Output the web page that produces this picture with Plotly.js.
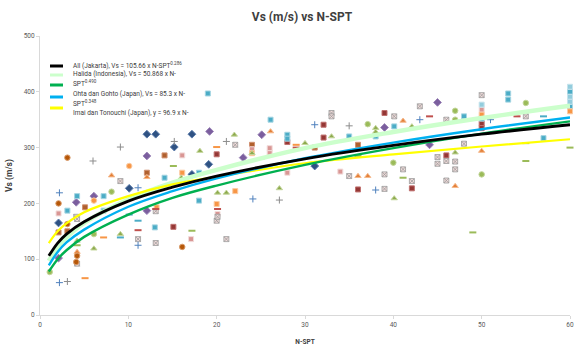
<!DOCTYPE html>
<html>
<head>
<meta charset="utf-8">
<script src="https://cdn.plot.ly/plotly-3.0.1.min.js"></script>
<style>
  html, body { margin: 0; padding: 0; background: #ffffff; }
  #chart { width: 574px; height: 346px; }
</style>
</head>
<body>
<div id="chart"></div>
<script>
// ---- Field measurements: N-SPT blow count vs shear-wave velocity (m/s) ----
const navyDiamondN  = [2.1, 10.1, 12.1, 13.1, 15.2, 17.2, 17.2, 19.1, 31.1];
const navyDiamondVs = [165, 227, 324, 324, 301, 324, 252, 270, 267];

const purpleDiamondN  = [2.1, 4.1, 6.1, 12.1, 12.1, 19.2, 25.1, 39, 44.1, 45, 23];
const purpleDiamondVs = [102, 202, 213, 285, 187, 329, 323, 336, 305, 381, 282];

const brownSquareN  = [2.1, 3.1, 5.1, 12.1, 14.1, 31.1, 36, 24];
const brownSquareVs = [148, 150, 193, 255, 286, 300, 305, 305];

const darkRedSquareN  = [15.1, 20, 28, 32.1, 32.1, 36, 39, 42.1, 46, 50, 50];
const darkRedSquareVs = [158, 288, 310, 318, 341, 225, 362, 227, 286, 343, 335];

const pinkSquareN  = [2.1, 16.1, 17.1, 20.1, 26, 26, 28, 34, 50, 24];
const pinkSquareVs = [182, 286, 136, 181, 291, 299, 255, 257, 368, 297];

const cyanSquareN  = [3.1, 4.2, 7.2, 7.2, 13, 14.1, 18, 18, 19, 26.1, 28, 28, 35, 38, 40.1, 48, 50, 53, 53, 57, 60, 60];
const cyanSquareVs = [187, 213, 213, 187, 157, 246, 255, 205, 397, 350, 323, 316, 320, 320, 338, 356, 352, 397, 386, 317, 400, 374];

const lightBlueSquareN  = [60, 60, 50, 60];
const lightBlueSquareVs = [409, 391, 377, 382];

const orangeSquareN  = [16.1, 13.2, 22.1, 60, 50, 24, 20];
const orangeSquareVs = [255, 193, 222, 365, 359, 290, 199];

const oliveTriangleN  = [18.1, 16, 22, 20.1, 21.1, 9.1, 4.2, 6.1, 27.1, 30, 33, 38, 38, 42.1, 47, 40.1, 24];
const oliveTriangleVs = [294, 246, 323, 219, 219, 145, 133, 119, 227, 308, 320, 335, 328, 338, 291, 209, 290];

const orangeTriangleN  = [8.1, 12.1, 4.2, 26.1, 41.1, 36, 37.1, 50, 47];
const orangeTriangleVs = [250, 247, 113, 329, 348, 249, 249, 294, 231];

const crossSquareN  = [4.1, 9.1, 4.2, 4.2, 13.1, 11.1, 13.1, 21.1, 20, 22.1, 33, 33, 35, 39, 39, 40.1, 41.1, 42.1, 43, 45, 45, 46, 46, 46, 47, 47, 48, 55, 50, 20.1];
const crossSquareVs = [176, 240, 172, 92, 186, 136, 129, 136, 169, 305, 362, 356, 249, 252, 226, 356, 261, 240, 374, 283, 271, 350, 276, 241, 275, 261, 307, 356, 394, 176];

const greenCircleN  = [1.1, 8.1, 6.1, 37.1, 40, 47, 47, 50, 55];
const greenCircleVs = [77, 221, 145, 342, 273, 366, 350, 252, 380];

const orangeCircleN  = [10.1, 6.1];
const orangeCircleVs = [267, 205];

const brownCircleN  = [2.1, 3.1, 3.1, 4.2, 4.1, 16.1];
const brownCircleVs = [200, 282, 163, 106, 95, 122];

const bluePlusN  = [2.2, 11.1, 11.1, 2.2, 31.1, 24.1, 38, 43, 51];
const bluePlusVs = [219, 228, 125, 58, 341, 208, 224, 350, 350];

const grayPlusN  = [9.1, 15.2, 6, 3.1, 21.1, 27.1, 35];
const grayPlusVs = [301, 311, 276, 60, 311, 206, 339];

const oliveDashN  = [15.1, 4.2, 17.2, 36, 41.1, 55, 55, 60, 49, 25];
const oliveDashVs = [267, 125, 151, 285, 246, 308, 276, 300, 148, 280];

const redDashN  = [13.1, 11.1, 20.1, 44.1, 54, 29];
const redDashVs = [190, 152, 190, 356, 356, 300];

const orangeDashN  = [20, 7.2, 5.1, 29];
const orangeDashVs = [301, 139, 66, 305];

const tealDashN  = [9.1, 11.1, 10.1, 57];
const tealDashVs = [139, 169, 180, 356];

// ---- Correlation curves (Vs read at selected N-SPT values) ----
const curveN         = [1, 2, 3, 5, 10, 15, 20, 30, 40, 50, 60];
const allJakartaVs   = [106, 129, 145, 167, 204, 229, 249, 280, 304, 324, 341];
const halidaVs       = [97, 122, 139, 165, 207, 237, 260, 299, 328, 353, 375];
const greenCurveVs   = [78, 100, 116, 140, 180, 210, 232, 269, 299, 325, 347];
const ohtaGohtoVs    = [89, 113, 130, 153, 194, 222, 245, 281, 309, 333, 354];
const imaiTonouchiVs = [129, 150, 164, 184, 213, 234, 248, 272, 288, 302, 315];

// ---- Tick labels ----
const xTicks = [0, 10, 20, 30, 40, 50, 60];
const yTicks = [0, 100, 200, 300, 400, 500];

// ---- Legend rows: line swatches and text lines ----
const legendSwatchColors = ['#000000', '#CCFFCC', '#00B050', '#00B0F0', '#FFFF00'];
const legendLabels = [
  'All (Jakarta), Vs = 105.66 x N-SPT<sup>0.286</sup>',
  'Halida (Indonesia), Vs = 50.868 x N-',
  'SPT<sup>0.490</sup>',
  'Ohta dan Gohto (Japan), Vs = 85.3 x N-',
  'SPT<sup>0.348</sup>',
  'Imai dan Tonouchi (Japan), y = 96.9 x N-'
];

const FONT = 'Roboto, Liberation Sans, sans-serif';

function pts(x, y, symbol, color, lineColor, size, lineWidth) {
  return {
    type: 'scatter', mode: 'markers', x: x, y: y, showlegend: false,
    hoverinfo: 'x+y', cliponaxis: false,
    marker: { symbol: symbol, color: color, size: size || 5,
              line: { color: lineColor, width: lineWidth === undefined ? 1 : lineWidth } }
  };
}

function curve(y, color, width) {
  return {
    type: 'scatter', mode: 'lines', x: curveN, y: y, showlegend: false,
    line: { color: color, width: width, shape: 'spline', smoothing: 1.0 }, hoverinfo: 'skip'
  };
}

const traces = [
  pts(navyDiamondN, navyDiamondVs, 'diamond', '#2F5283', '#5A7BAA', 6),
  pts(purpleDiamondN, purpleDiamondVs, 'diamond', '#7B5E9E', '#9C86B8', 6),
  pts(brownSquareN, brownSquareVs, 'square', '#B0602E', '#D09070', 5),
  pts(darkRedSquareN, darkRedSquareVs, 'square', '#953735', '#C07270', 5),
  pts(pinkSquareN, pinkSquareVs, 'square', '#D99694', '#F2DCDB', 5),
  pts(cyanSquareN, cyanSquareVs, 'square', '#4BACC6', '#A5D5E2', 5),
  pts(lightBlueSquareN, lightBlueSquareVs, 'square', '#93CDDD', '#C6E3EC', 5),
  pts(orangeSquareN, orangeSquareVs, 'square', '#F79646', '#FBCBA3', 5),
  pts(oliveTriangleN, oliveTriangleVs, 'triangle-up', '#8EAA4E', '#C3D69B', 5.5),
  pts(orangeTriangleN, orangeTriangleVs, 'triangle-up', '#E3813A', '#F6B88A', 5.5),
  pts(crossSquareN, crossSquareVs, 'square-x', '#F2DCDB', '#9A9A9A', 5, 0.8),
  pts(greenCircleN, greenCircleVs, 'circle', '#9BBB59', '#C3D69B', 5.5),
  pts(orangeCircleN, orangeCircleVs, 'circle', '#F79646', '#FBCBA3', 5.5),
  pts(brownCircleN, brownCircleVs, 'circle', '#B65708', '#D99B6A', 5.5),
  pts(bluePlusN, bluePlusVs, 'cross-thin-open', '#4F81BD', '#4F81BD', 5, 1),
  pts(grayPlusN, grayPlusVs, 'cross-thin-open', '#8C8C8C', '#8C8C8C', 5, 1),
  pts(oliveDashN, oliveDashVs, 'line-ew-open', '#9BBB59', '#9BBB59', 5, 2),
  pts(redDashN, redDashVs, 'line-ew-open', '#C0504D', '#C0504D', 5, 2),
  pts(orangeDashN, orangeDashVs, 'line-ew-open', '#F79646', '#F79646', 5, 2),
  pts(tealDashN, tealDashVs, 'line-ew-open', '#4BACC6', '#4BACC6', 5, 2),

  curve(halidaVs, '#CCFFCC', 4.5),
  curve(imaiTonouchiVs, '#FFFF00', 2.2),
  curve(greenCurveVs, '#00B050', 2.4),
  curve(ohtaGohtoVs, '#00B0F0', 2.4),
  curve(allJakartaVs, '#000000', 2.8)
];

// Compact legend placed in plot-area fractions (plot area spans 40..570 px, 36..315 px)
const px2x = p => (p - 40) / 530;
const px2y = p => (315 - p) / 279;
const swatchRows = [66, 75, 85, 97, 108];
const labelRows = [65, 74, 83, 94, 103, 113];

const shapes = legendSwatchColors.map((c, i) => ({
  type: 'line', xref: 'paper', yref: 'paper',
  x0: px2x(50), x1: px2x(63), y0: px2y(swatchRows[i]), y1: px2y(swatchRows[i]),
  line: { color: c, width: 3 }
}));

const annotations = legendLabels.map((t, i) => ({
  xref: 'paper', yref: 'paper', x: px2x(71), y: px2y(labelRows[i]),
  xanchor: 'left', yanchor: 'middle', showarrow: false,
  text: t, font: { family: FONT, size: 6.5, color: '#404040' }
}));

const layout = {
  width: 574, height: 346,
  margin: { l: 40, r: 4, t: 36, b: 31 },
  paper_bgcolor: '#ffffff', plot_bgcolor: '#ffffff',
  showlegend: false,
  font: { family: FONT, size: 7, color: '#595959' },
  title: {
    text: '<b>Vs (m/s) vs N-SPT</b>',
    xref: 'container', yref: 'container',
    x: 302 / 574, xanchor: 'center', y: 1 - 17 / 346, yanchor: 'middle',
    font: { family: FONT, size: 12, color: '#404040' }
  },
  xaxis: {
    range: [0, 60], tickvals: xTicks, ticktext: xTicks.map(String),
    showgrid: false, zeroline: false, showline: true,
    linecolor: '#D9D9D9', linewidth: 1,
    ticks: 'outside', ticklen: 3, tickcolor: '#D9D9D9',
    tickfont: { family: FONT, size: 6.5, color: '#595959' },
    title: { text: '<b>N-SPT</b>', standoff: 11,
             font: { family: FONT, size: 6.5, color: '#404040' } }
  },
  yaxis: {
    range: [0, 500], tickvals: yTicks, ticktext: yTicks.map(String),
    showgrid: false, zeroline: false, showline: true,
    linecolor: '#D9D9D9', linewidth: 1,
    ticks: 'outside', ticklen: 3, tickcolor: '#D9D9D9',
    tickfont: { family: FONT, size: 6.5, color: '#595959' },
    title: { text: '<b>Vs (m/s)</b>', standoff: 9,
             font: { family: FONT, size: 8.5, color: '#404040' } }
  },
  shapes: shapes,
  annotations: annotations
};

Plotly.newPlot('chart', traces, layout, { displayModeBar: false });
</script>
</body>
</html>
